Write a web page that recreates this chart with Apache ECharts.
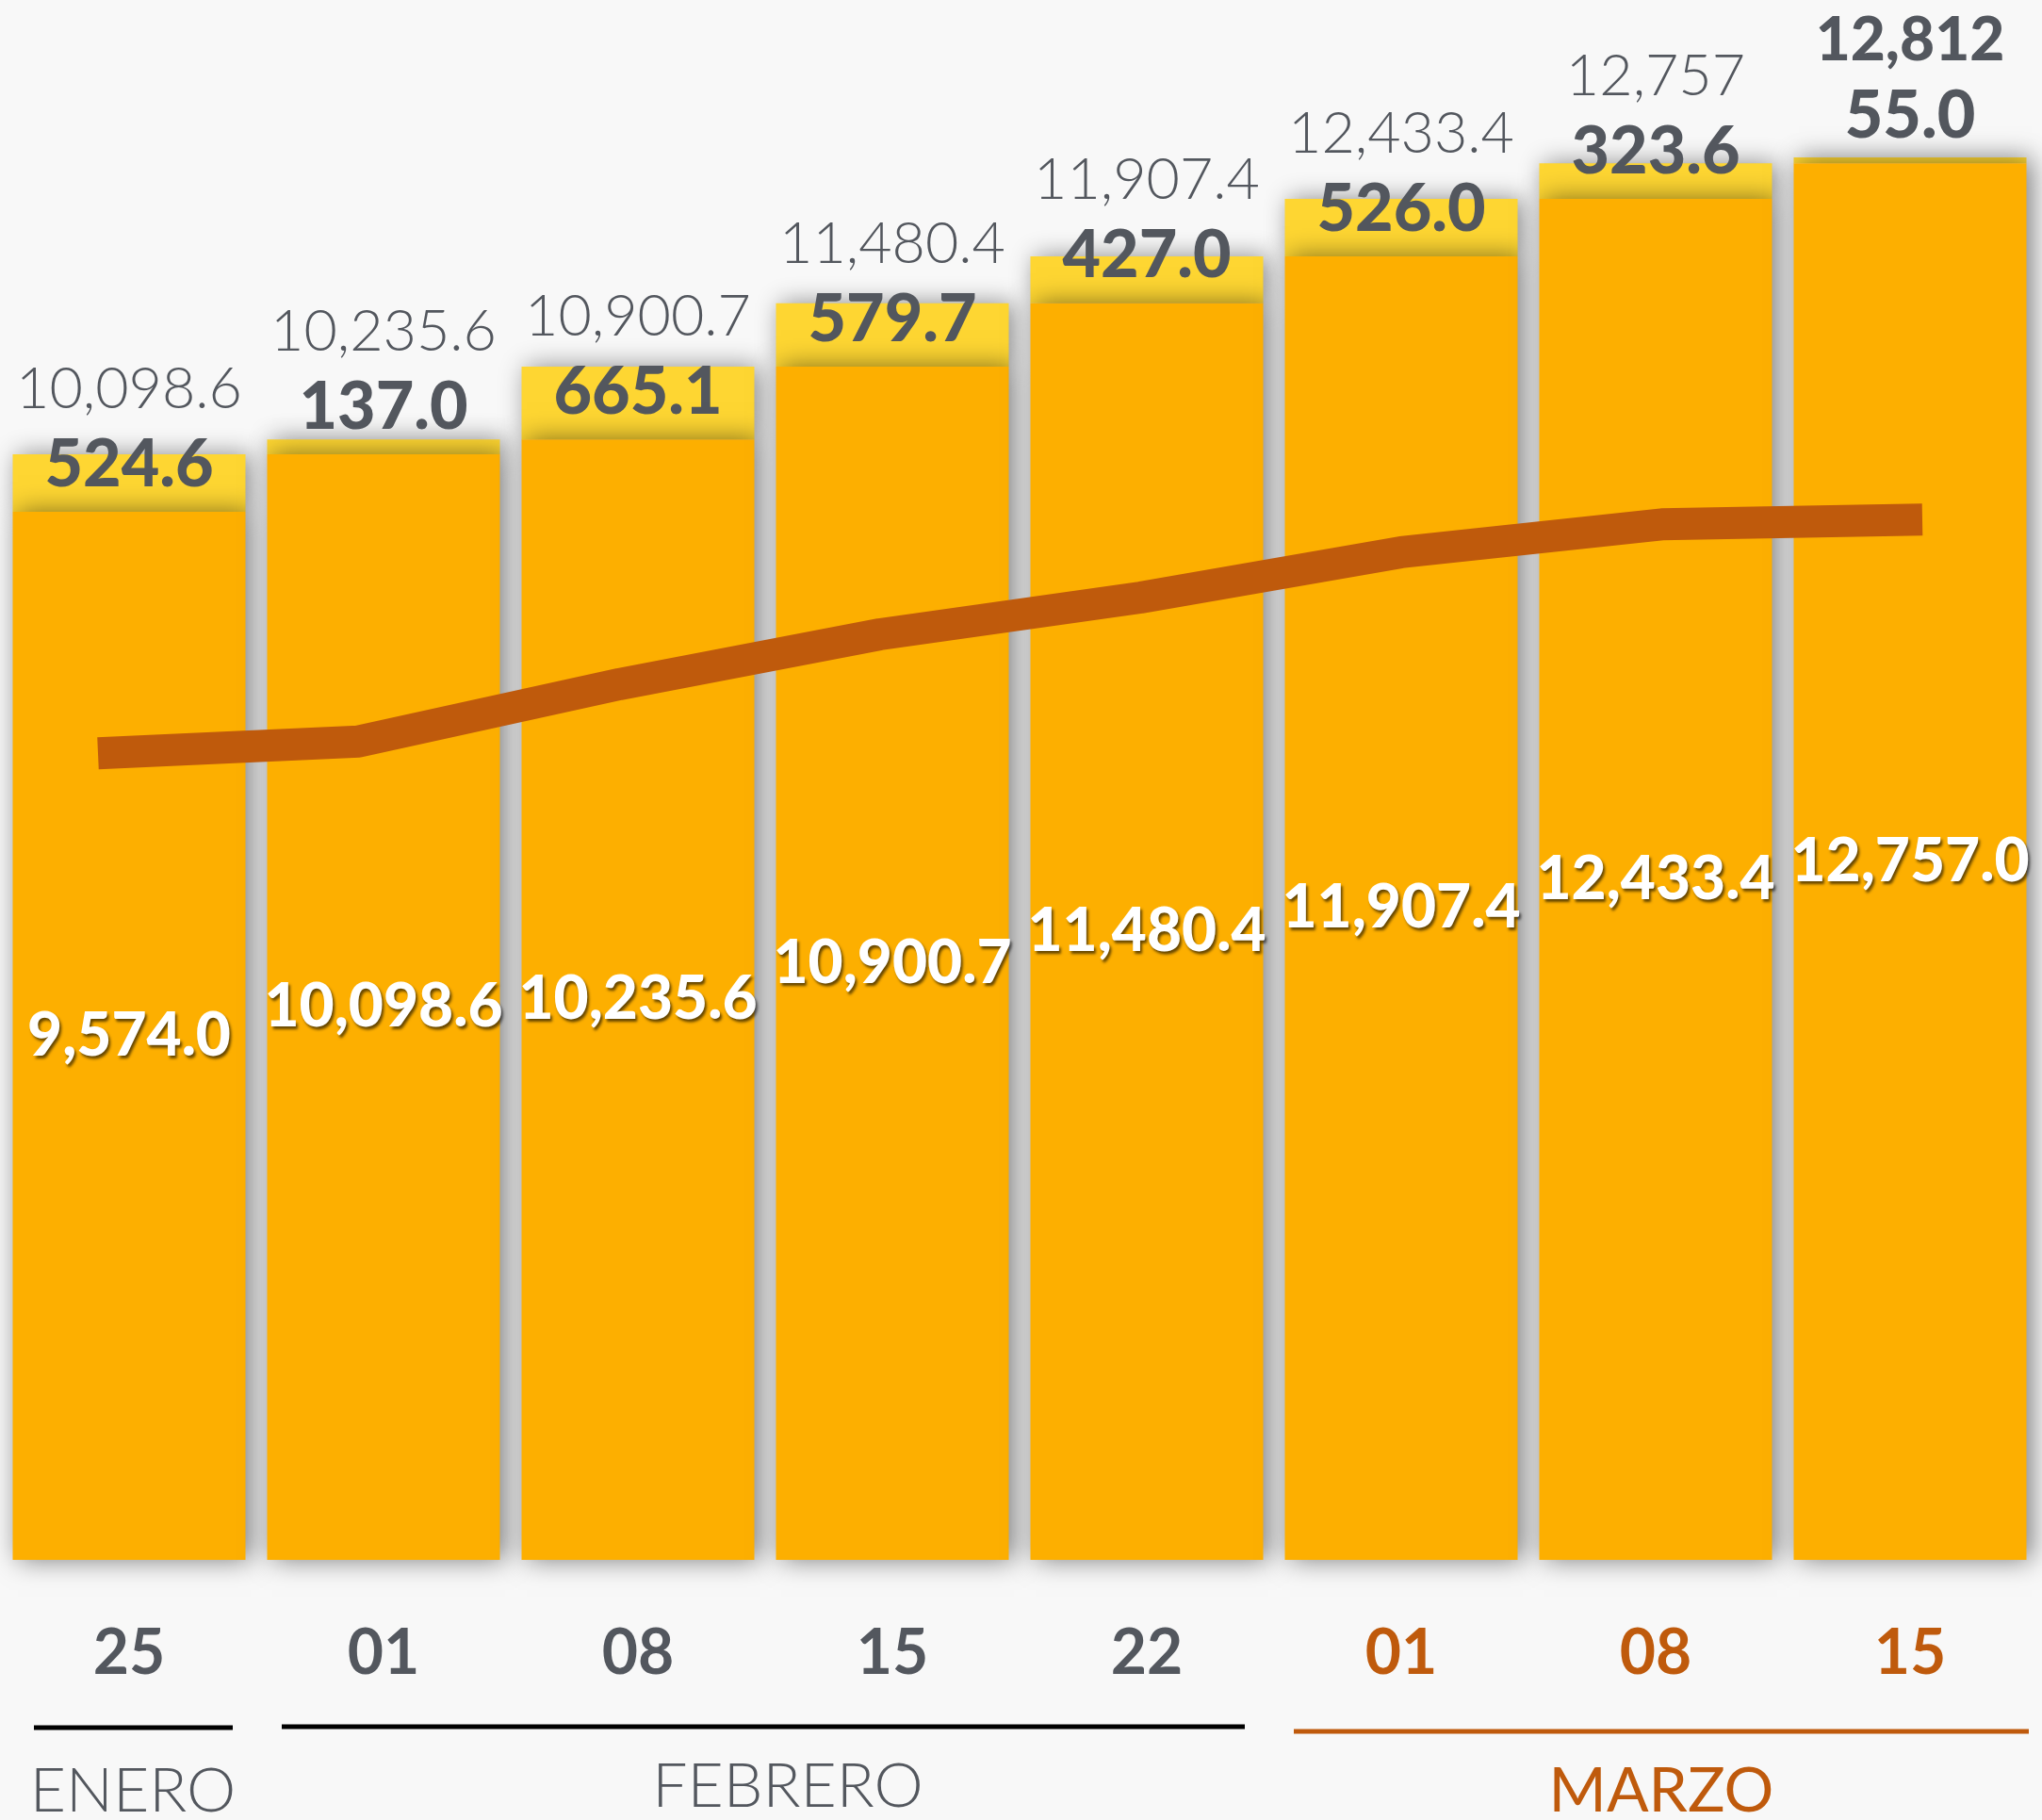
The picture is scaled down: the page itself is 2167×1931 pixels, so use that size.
<!DOCTYPE html>
<html>
<head>
<meta charset="utf-8">
<script src="https://cdn.jsdelivr.net/npm/echarts@6/dist/echarts.min.js"></script>
<style>
  html, body { margin: 0; padding: 0; background: #f8f8f8; }
  #main_charts { width: 2167px; height: 1931px; }
</style>
</head>
<body>
<div id="main_charts"></div>
<script>
  var myChart = echarts.init(document.getElementById('main_charts'));

  // datos
  var dias = ['25', '01', '08', '15', '22', '01', '08', '15'];
  var mesDeDia = [0, 1, 1, 1, 1, 2, 2, 2];
  var base = [9574.0, 10098.6, 10235.6, 10900.7, 11480.4, 11907.4, 12433.4, 12757.0];
  var incremento = [524.6, 137.0, 665.1, 579.7, 427.0, 526.0, 323.6, 55.0];
  var totales = [10098.6, 10235.6, 10900.7, 11480.4, 11907.4, 12433.4, 12757, 12812];
  var decTotal = [1, 1, 1, 1, 1, 1, 0, 0];
  var tendencia = [10098.6, 10235.6, 10900.7, 11480.4, 11907.4, 12433.4, 12757, 12812];
  var meses = ['ENERO', 'FEBRERO', 'MARZO'];

  var gris = '#53575e';
  var rojizo = '#bf5a0c';

  function fmt(v, d) {
    var s = v.toFixed(d).split('.');
    s[0] = s[0].replace(/\B(?=(\d{3})+(?!\d))/g, ',');
    return s.join('.');
  }

  var option = {
    backgroundColor: '#f8f8f8',
    animation: false,
    grid: [
      { left: 2, right: 5, top: 29, bottom: 276 },
      { left: 104, right: 127, top: 260, bottom: 209 }
    ],
    xAxis: [
      {
        type: 'category', gridIndex: 0, data: dias,
        axisLine: { show: false }, axisTick: { show: false },
        axisLabel: {
          margin: 67, fontFamily: 'Lato', fontWeight: 'bold', fontSize: 66,
          color: function (v, i) { return mesDeDia[i] === 2 ? rojizo : gris; }
        }
      },
      { type: 'category', gridIndex: 1, data: dias, boundaryGap: false, show: false }
    ],
    yAxis: [
      { type: 'value', gridIndex: 0, min: 0, max: 14000, show: false, splitLine: { show: false } },
      { type: 'value', gridIndex: 1, min: 0, max: 16000, show: false, splitLine: { show: false } }
    ],
    series: [
      {
        name: 'base', type: 'bar', stack: 'total', barWidth: 247, z: 3,
        data: base,
        itemStyle: {
          color: '#fdaf00', shadowColor: 'rgba(0,0,0,0.5)', shadowBlur: 26, shadowOffsetX: 5
        },
        label: {
          show: true, position: 'inside', color: '#fff',
          fontFamily: 'Lato', fontWeight: 900, fontSize: 64,
          textShadowColor: 'rgba(0,0,0,0.6)', textShadowBlur: 3,
          textShadowOffsetX: 2, textShadowOffsetY: 3,
          formatter: function (p) { return fmt(p.value, 1); }
        }
      },
      {
        name: 'incremento', type: 'bar', stack: 'total', barWidth: 247, z: 2,
        data: incremento,
        itemStyle: {
          color: '#fed632', shadowColor: 'rgba(0,0,0,0.45)', shadowBlur: 26, shadowOffsetX: 5
        },
        label: {
          show: true, position: 'insideBottom', distance: 15,
          formatter: function (p) {
            var i = p.dataIndex;
            var t = fmt(totales[i], decTotal[i]);
            return '{' + (i === totales.length - 1 ? 'tb' : 't') + '|' + t + '}\n{v|' + fmt(p.value, 1) + '}';
          },
          rich: {
            t: { fontFamily: 'Lato', fontWeight: 300, fontSize: 61, color: gris, lineHeight: 90 },
            tb: { fontFamily: 'Lato', fontWeight: 900, fontSize: 64, color: gris, lineHeight: 90 },
            v: { fontFamily: 'Lato', fontWeight: 900, fontSize: 70, color: gris, lineHeight: 70 }
          }
        }
      },
      {
        name: 'tendencia', type: 'line', xAxisIndex: 1, yAxisIndex: 1, z: 5,
        data: tendencia, symbol: 'none',
        lineStyle: { color: rojizo, width: 34, cap: 'butt', join: 'round' }
      }
    ],
    graphic: [
      { type: 'line', shape: { x1: 36, y1: 1833, x2: 247, y2: 1833 }, style: { stroke: '#000', lineWidth: 5 } },
      { type: 'line', shape: { x1: 299, y1: 1832, x2: 1321, y2: 1832 }, style: { stroke: '#000', lineWidth: 5 } },
      { type: 'line', shape: { x1: 1373, y1: 1837, x2: 2153, y2: 1837 }, style: { stroke: rojizo, lineWidth: 5 } },
      { type: 'text', x: 141, y: 1901, style: { text: meses[0], font: '300 66px Lato', fill: gris, align: 'center', verticalAlign: 'middle' } },
      { type: 'text', x: 836, y: 1896, style: { text: meses[1], font: '300 66px Lato', fill: gris, align: 'center', verticalAlign: 'middle' } },
      { type: 'text', x: 1763, y: 1901, style: { text: meses[2], font: '400 66px Lato', fill: rojizo, align: 'center', verticalAlign: 'middle' } }
    ]
  };

  myChart.setOption(option);
</script>
</body>
</html>
